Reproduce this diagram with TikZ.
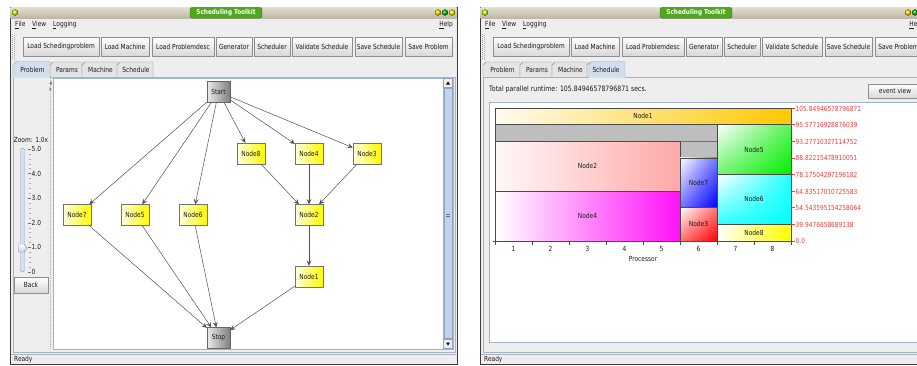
\documentclass[tikz,border=0pt]{standalone}
\usepackage{fontspec}
\setmainfont{DejaVu Sans}[FakeStretch=0.84]
\usetikzlibrary{arrows.meta,shadings}
\definecolor{winbg}{HTML}{EEEEEE}
\definecolor{framec}{HTML}{3C3C3C}
\definecolor{titletop}{HTML}{E2DECF}
\definecolor{titlebot}{HTML}{BDB8A5}
\definecolor{tgreen}{HTML}{4FA81E}
\definecolor{btnborder}{HTML}{8E8E8E}
\definecolor{btnbot}{HTML}{D8D8D8}
\definecolor{tabfill}{HTML}{E4E4E4}
\definecolor{tabsel}{HTML}{D2DEEC}
\definecolor{panelline}{HTML}{9FB4D0}
\definecolor{txt}{HTML}{1A1A1A}
\definecolor{edgec}{HTML}{505050}
\definecolor{axred}{HTML}{F23C3C}
\definecolor{ggray}{HTML}{BEBEBE}
\definecolor{blkline}{HTML}{4A4A4A}
\definecolor{scrtrack}{HTML}{DCE4EE}
\definecolor{scrthumb}{HTML}{C4D4E8}
\definecolor{scrline}{HTML}{8CA4C4}
\definecolor{cone}{HTML}{FFC800}
\definecolor{ctwo}{HTML}{FFA8A8}
\definecolor{cthree}{HTML}{FF0000}
\definecolor{cfour}{HTML}{FF10F8}
\definecolor{cfive}{HTML}{00EE00}
\definecolor{csix}{HTML}{00FFFF}
\definecolor{cseven}{HTML}{0000FF}
\definecolor{ceight}{HTML}{FFFF00}
\tikzset{
  lbl/.style={inner sep=0pt, text=txt},
  btn/.style={draw=btnborder, top color=white, bottom color=btnbot, inner sep=0pt, minimum height=19pt, text=txt},
  wintitle/.style={fill=tgreen, draw=tgreen!70!black, rounded corners=2pt, minimum width=72pt, minimum height=10.5pt, inner sep=0pt, text=white, font=\fontsize{6.8}{7}\selectfont\bfseries},
  ynode/.style={draw=black!55, left color=yellow!12!white, right color=yellow!95!orange, minimum width=28pt, minimum height=21pt, inner sep=0pt, text=txt},
  gnode/.style={draw=black!60, left color=black!8, right color=black!50, minimum width=23pt, minimum height=21pt, inner sep=0pt, text=txt},
  edge/.style={draw=edgec, line width=0.5pt, -{Stealth[length=5.5pt,width=5pt,inset=2.4pt]}},
  gblk/.style={draw=blkline, line width=0.6pt, inner sep=0pt, text=txt},
  redlbl/.style={inner sep=0pt, anchor=west, text=axred},
}
% chart block: name, x1, x2, k1, k2, options, label
\newcommand\gblock[7]{%
  \node[gblk, minimum width={(#3-#2)*1pt}, minimum height={16.6*(#5-#4)*1pt}, #6]
    (#1) at ({(#2+#3)/2},{108+8.3*(#4+#5)}) {#7};}
% window chrome: prefix, xshift, selected tab left, selected tab right
\newcommand\appchrome[4]{%
\begin{scope}[xshift=#2pt]
  \draw[fill=winbg, draw=framec, line width=1pt] (10,7) rectangle (457,364);
  \shade[top color=titletop, bottom color=titlebot] (10.5,7.5) rectangle (456.5,18);
  \node[wintitle] (#1title) at (226,12.8) {Scheduling Toolkit};
  \fill[ball color=yellow!80!green] (15,12.5) circle (3pt);
  \fill[ball color=yellow!70!orange] (438,12.5) circle (3pt);
  \fill[ball color=green!70!black] (445,12.5) circle (3pt);
  \fill[ball color=yellow!90!orange] (452,12.5) circle (3pt);
  \node[lbl, anchor=west] (#1file) at (15,25) {\underline{F}ile};
  \node[lbl, anchor=west] (#1view) at (32,25) {\underline{V}iew};
  \node[lbl, anchor=west] (#1log) at (53,25) {\underline{L}ogging};
  \node[lbl, anchor=east] (#1help) at (453,25) {\underline{H}elp};
  \foreach \yy in {34,36,...,58} {\fill[black!35] (12,\yy) rectangle (13,\yy+1); \fill[black!35] (14,\yy+1) rectangle (15,\yy+2);}
  \foreach \a/\b/\t/\i in {23/99/Load Schedingproblem/1, 101/149/Load Machine/2, 152/214/Load Problemdesc/3, 216/252/Generator/4, 254/290/Scheduler/5, 292/352/Validate Schedule/6, 355/402/Save Schedule/7, 405/452/Save Problem/8}
    {\node[btn, minimum width={(\b-\a)*1pt}] (#1btn\i) at ({(\a+\b)/2},46.5) {\t};}
  \foreach \a/\b in {13/50,50/82,82/117,117/153}
    {\draw[draw=btnborder, fill=tabfill] (\a,77) -- (\a,65) -- (\a+3,62) -- (\b,62) -- (\b,77);}
  \draw[draw=panelline, fill=tabsel] (#3,77.5) -- (#3,65) -- (#3+3,61.5) -- (#4,61.5) -- (#4,77.5);
  \foreach \a/\b/\t/\i in {13/50/Problem/1,50/82/Params/2,82/117/Machine/3,117/153/Schedule/4}
    {\node[lbl] (#1tab\i) at ({(\a+\b)/2+1},70) {\t};}
  \draw[draw=panelline] (13,77.5) -- (#3,77.5) (#4,77.5) -- (455,77.5) -- (455,352) -- (13,352) -- (13,77.5);
  \draw[black!30] (11,354) -- (456,354);
  \node[lbl, anchor=west] (#1ready) at (14,360) {Ready};
\end{scope}}

\begin{document}
\begin{tikzpicture}[x=1pt, y=-1pt, font=\fontsize{7}{8}\selectfont]
\useasboundingbox (0,0) rectangle (917,365);
\fill[white] (0,0) rectangle (917,365);
\clip (0,0) rectangle (917,365);

% ---------- left window ----------
\appchrome{L}{0}{13}{50}
% split divider
\foreach \yy in {78,80,...,348} {\fill[black!30] (50,\yy) rectangle (51,\yy+1);}
\fill[scrline!70!black] (51.5,81) -- (49.5,83) -- (51.5,85) -- cycle;
\fill[scrline!70!black] (49.5,87) -- (51.5,89) -- (49.5,91) -- cycle;
% graph area
\draw[fill=white, draw=panelline] (53,78) rectangle (443,349);
% scrollbar
\draw[fill=scrtrack, draw=panelline] (443,78) rectangle (453,349);
\draw[fill=winbg, draw=scrline] (443.5,78.5) rectangle (452.5,87);
\fill[black] (446,84.5) -- (450,84.5) -- (448,81.5) -- cycle;
\draw[fill=scrthumb, draw=scrline] (444,88) rectangle (452,338);
\draw[scrline!70!black] (446,214.5) -- (450,214.5) (446,216.5) -- (450,216.5);
\draw[fill=winbg, draw=scrline] (443.5,339) rectangle (452.5,348.5);
\fill[black] (446,342.5) -- (450,342.5) -- (448,345.5) -- cycle;
% zoom slider
\node[lbl] (zoomlbl) at (31,139.5) {Zoom: 1.0x};
\draw[fill=scrthumb!70!white, draw=scrline, rounded corners=1.5pt] (20.5,148) rectangle (24.5,272);
\foreach \k in {0,...,25} {
  \pgfmathtruncatemacro\m{mod(\k,5)}
  \ifnum\m=0 \draw[black!55] (27.5,{149+\k*4.92}) -- (31,{149+\k*4.92});
  \else \draw[black!35] (28.5,{149+\k*4.92}) -- (30.5,{149+\k*4.92}); \fi
}
\foreach \v/\k in {5.0/0,4.0/1,3.0/2,2.0/3,1.0/4,0/5}
  {\node[lbl, anchor=west] (zl\k) at (31.5,{149+\k*24.6}) {\v};}
\draw[top color=white, bottom color=scrthumb, draw=scrline!80!black] (18.5,244) -- (24,244) -- (27,248) -- (24,252) -- (18.5,252) -- cycle;
\node[btn, minimum width=34pt, minimum height=16pt] (back) at (31,285) {Back};

% graph
\node[gnode] (start) at (218.5,92) {Start};
\node[ynode] (n7) at (77,215) {Node7};
\node[ynode] (n5) at (135,215) {Node5};
\node[ynode] (n6) at (193,215) {Node6};
\node[ynode] (n8) at (251,153.5) {Node8};
\node[ynode] (n4) at (309,153.5) {Node4};
\node[ynode] (n3) at (367,153.5) {Node3};
\node[ynode] (n2) at (309,215) {Node2};
\node[ynode] (n1) at (309,276.5) {Node1};
\node[gnode] (stop) at (218.5,338) {Stop};
\foreach \t in {n7,n5,n6,n8,n4,n3} {\draw[edge] (start) -- (\t);}
\foreach \t in {n8,n4,n3} {\draw[edge] (\t) -- (n2);}
\draw[edge] (n2) -- (n1);
\foreach \t in {n7,n5,n6,n1} {\draw[edge] (\t) -- (stop);}

% ---------- right window ----------
\appchrome{R}{470}{119}{155}
\node[lbl, anchor=west, font=\fontsize{7.4}{8}\selectfont] (runtime) at (489,89) {Total parallel runtime: 105.84946578796871 secs.};
\node[btn, minimum width=54pt, minimum height=14pt] (eventview) at (895,91) {event view};
\draw[fill=white, draw=panelline] (489,102) rectangle (930,342);
% gantt blocks
\gblock{g1}{495}{791}{0}{1}{left color=cone!6!white, right color=cone}{Node1}
\gblock{ga}{495}{717}{1}{2}{fill=ggray}{}
\gblock{g2}{495}{680}{2}{5}{left color=ctwo!8!white, right color=ctwo}{Node2}
\gblock{gb}{680}{717}{2}{3}{fill=ggray}{}
\gblock{g7}{680}{717}{3}{6}{upper left=white, upper right=cseven!55!white, lower left=cseven!55!white, lower right=cseven}{Node7}
\gblock{g3}{680}{717}{6}{8}{upper left=white, upper right=cthree!55!white, lower left=cthree!55!white, lower right=cthree}{Node3}
\gblock{g4}{495}{680}{5}{8}{left color=white, right color=cfour}{Node4}
\gblock{g5}{717}{791}{1}{4}{upper left=white, upper right=cfive!65!white, lower left=cfive!55!white, lower right=cfive}{Node5}
\gblock{g6}{717}{791}{4}{7}{upper left=white, upper right=csix!85!white, lower left=csix!80!white, lower right=csix}{Node6}
\gblock{g8}{717}{791}{7}{8}{left color=white, right color=ceight}{Node8}
\draw[axred, line width=0.6pt] (680.5,141.2) -- (716.5,141.2);
% y axis (right)
\foreach \k/\v in {0/105.84946578796871, 1/95.57716928876039, 2/93.27710327114752, 3/88.82215478910051, 4/78.17504297196182, 5/64.83517010725583, 6/54.543595154258064, 7/39.9476658689138, 8/0.0}
  {\draw[axred] (791,{108+16.6*\k}) -- (795,{108+16.6*\k});
   \node[redlbl] (yl\k) at (795.5,{108.5+16.6*\k}) {\v};}
% x axis
\draw[black!70] (493,241) -- (792,241);
\foreach \i in {0,...,8} {\draw[black!70] ({495+37*\i},241) -- ({495+37*\i},245);}
\foreach \i in {1,...,8} {\node[lbl] (xl\i) at ({476.5+37*\i},248.5) {\i};}
\node[lbl] (xaxis) at (643,258.5) {Processor};
\end{tikzpicture}
\end{document}
